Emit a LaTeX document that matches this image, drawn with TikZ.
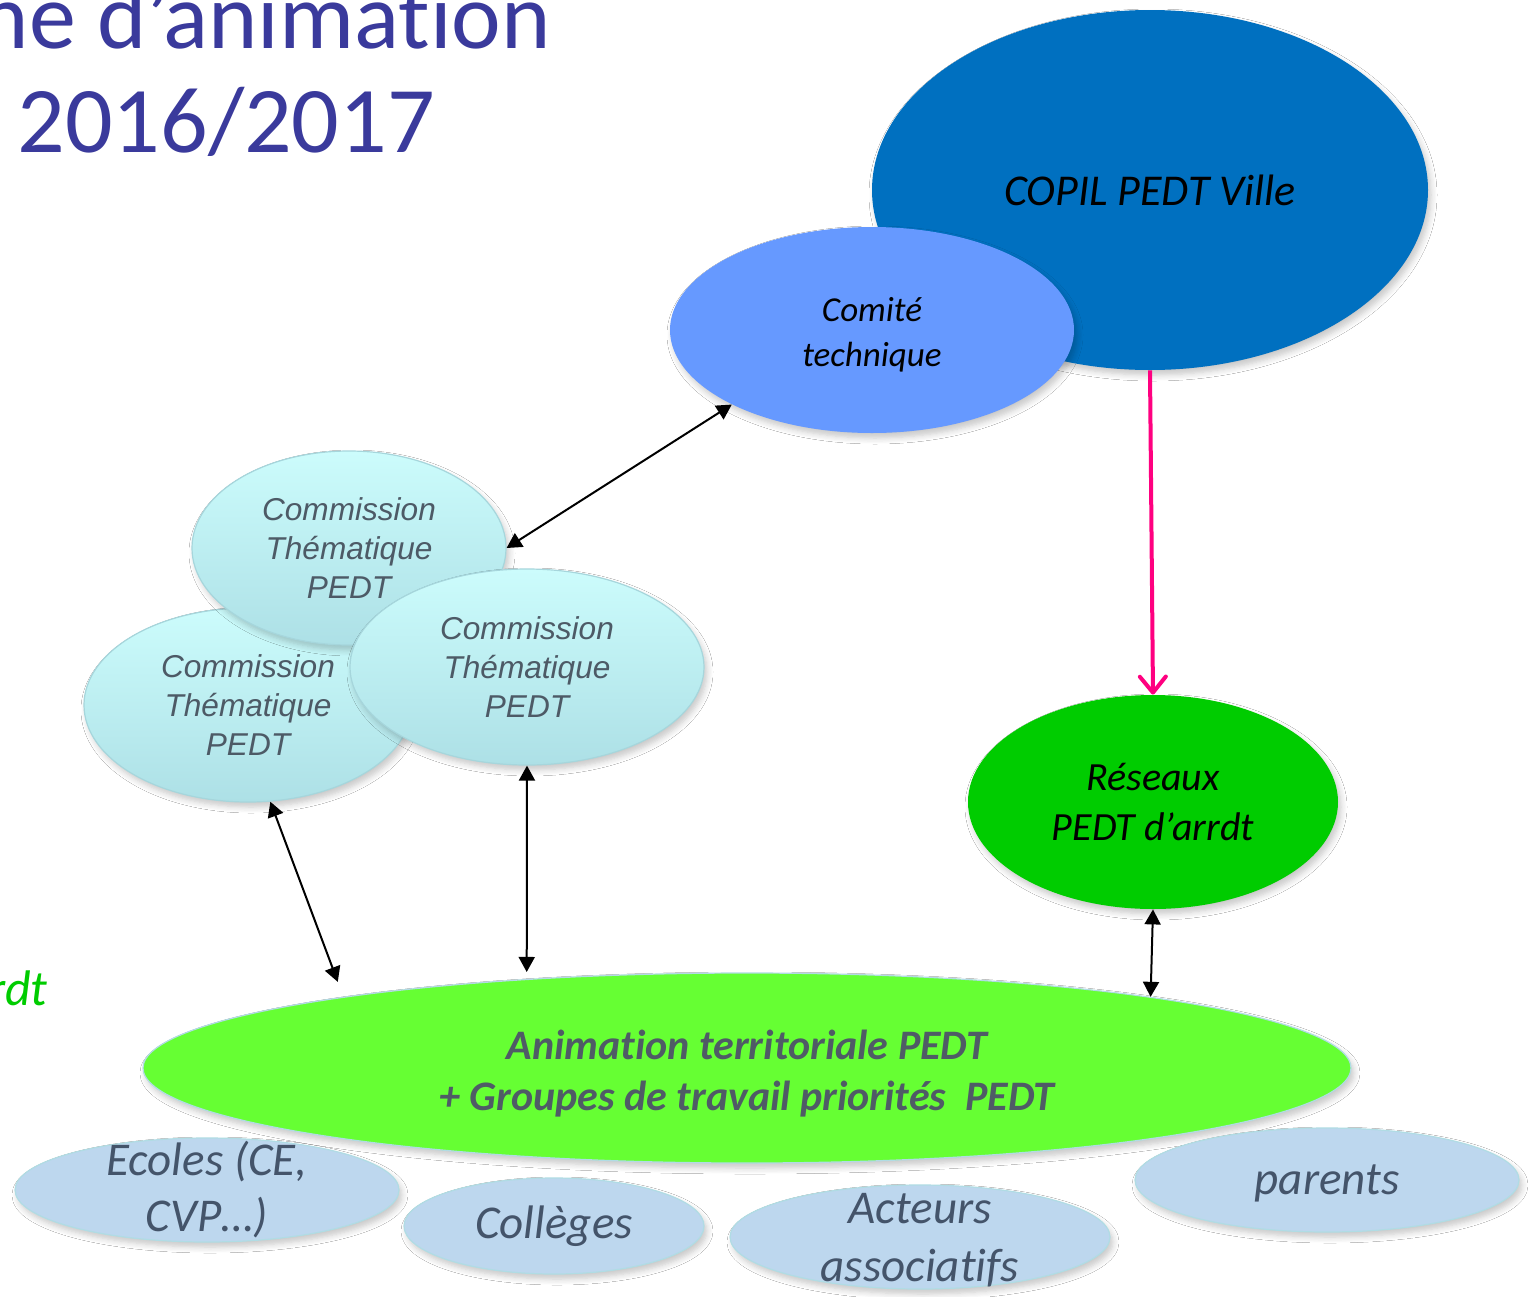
\documentclass[tikz,border=0pt]{standalone}
\usepackage{fontspec}
\setmainfont{Carlito}[Ligatures=NoCommon]
\newfontfamily\arialfont{Liberation Sans}
\usetikzlibrary{shapes.geometric,arrows.meta,shadows.blur}
\definecolor{titleblue}{HTML}{3A3A9C}
\definecolor{copilblue}{HTML}{0070C0}
\definecolor{comblue}{HTML}{6699FF}
\definecolor{resgreen}{HTML}{00CC00}
\definecolor{animgreen}{HTML}{66FF33}
\definecolor{animtext}{HTML}{4F5B66}
\definecolor{botfill}{HTML}{BDD7EE}
\definecolor{botdraw}{HTML}{B0DCE4}
\definecolor{bottext}{HTML}{44546A}
\definecolor{commtop}{HTML}{CCFCFC}
\definecolor{commbot}{HTML}{ADE0E6}
\definecolor{commdraw}{HTML}{A6D6DC}
\definecolor{commtext}{HTML}{4D5A66}
\definecolor{pinkarr}{HTML}{FF0080}
\begin{document}
\begin{tikzpicture}[x=0.5pt,y=-0.5pt,
  ell/.style={ellipse, inner sep=0pt},
  lab/.style={align=center, inner sep=0pt},
  shd/.style={blur shadow={shadow xshift=1.5pt, shadow yshift=-2.5pt, shadow blur steps=6, shadow blur radius=3pt, shadow opacity=22}},
  comm/.style={ell, shd, top color=commtop, bottom color=commbot, draw=commdraw, line width=0.6pt,
    label={[lab, text=commtext, font=\arialfont\itshape\fontsize{15.8}{19.5}\selectfont]center:Commission\\Thématique\\PEDT}},
  bot/.style={ell, shd, fill=botfill, draw=botdraw, line width=0.6pt},
  botlab/.style={lab, text=bottext, font=\itshape\fontsize{23.5}{28}\selectfont},
  biarrow/.style={line width=1pt, {Triangle[length=7.5pt,width=8pt]}-{Triangle[length=7.5pt,width=8pt]}},
  pinkarrow/.style={draw=pinkarr, line width=2pt, -{Straight Barb[length=8pt,width=13pt,round]}}
]
\useasboundingbox (0,0) rectangle (1528,1297);
\clip (0,0) rectangle (1528,1297);
\fill[white] (0,0) rectangle (1528,1297);

% title (cut off at the picture's edge, as in the reference)
\node[inner sep=0pt, anchor=base east, text=titleblue, font=\fontsize{47}{56}\selectfont] (title1) at (551,48) {ne d’animation};
\node[inner sep=0pt, anchor=base west, text=titleblue, font=\fontsize{47}{56}\selectfont] (title2) at (17,152) {2016/2017};
\node[inner sep=0pt, anchor=base east, text=resgreen, font=\itshape\fontsize{25}{30}\selectfont] (rdt) at (48,1005) {rdt};

% main ellipses
\node[ell, shd, fill=copilblue, minimum width=278pt, minimum height=180pt,
  label={[lab, font=\itshape\fontsize{22}{26}\selectfont]center:COPIL PEDT Ville}] (copil) at (1150,190) {};
\node[ell, shd, fill=comblue, minimum width=202pt, minimum height=103pt,
  label={[lab, yshift=-2.5pt, font=\itshape\fontsize{17.5}{22.5}\selectfont]center:Comité\\technique}] (com) at (872,330) {};

\node[comm, minimum width=164pt, minimum height=97pt] (c2) at (248,705) {};
\node[comm, minimum width=157pt, minimum height=97pt] (c1) at (349,548) {};
\node[comm, minimum width=177pt, minimum height=98pt] (c3) at (527,667) {};

\node[ell, shd, fill=resgreen, minimum width=185pt, minimum height=107pt,
  label={[lab, font=\itshape\fontsize{20}{25}\selectfont]center:Réseaux\\PEDT d’arrdt}] (res) at (1153,802) {};

\node[ell, shd, fill=animgreen, draw=botdraw, line width=0.6pt, minimum width=604pt, minimum height=95pt,
  label={[lab, yshift=-3pt, text=animtext, font=\bfseries\itshape\fontsize{21}{25.5}\selectfont]center:Animation territoriale PEDT\\+ Groupes de travail priorités\ \ PEDT}] (anim) at (747,1068) {};

% bottom ellipses
\node[bot, minimum width=192pt, minimum height=52pt, label={[botlab]center:Ecoles (CE,\\CVP…)}] (ecoles) at (207,1190) {};
\node[bot, minimum width=150pt, minimum height=48pt, label={[botlab]center:Collèges}] (colleges) at (554,1226) {};
\node[bot, minimum width=190pt, minimum height=52pt, label={[botlab, yshift=-1.5pt, font=\itshape\fontsize{23.5}{29}\selectfont]center:Acteurs\\associatifs}] (acteurs) at (920,1237) {};
\node[bot, minimum width=192pt, minimum height=52pt, label={[botlab, yshift=-1.5pt]center:parents}] (parents) at (1327,1180) {};

% connectors
\draw[biarrow] (com.208) -- (c1.east);
\draw[biarrow, shorten >=8pt] (c2.283) -- (anim.170);
\draw[biarrow, shorten >=3.5pt] (c3.south) -- (anim.158);
\draw[biarrow] (res.south) -- (anim.10);
\draw[pinkarrow] (copil.south) -- (res.north);
\end{tikzpicture}
\end{document}
